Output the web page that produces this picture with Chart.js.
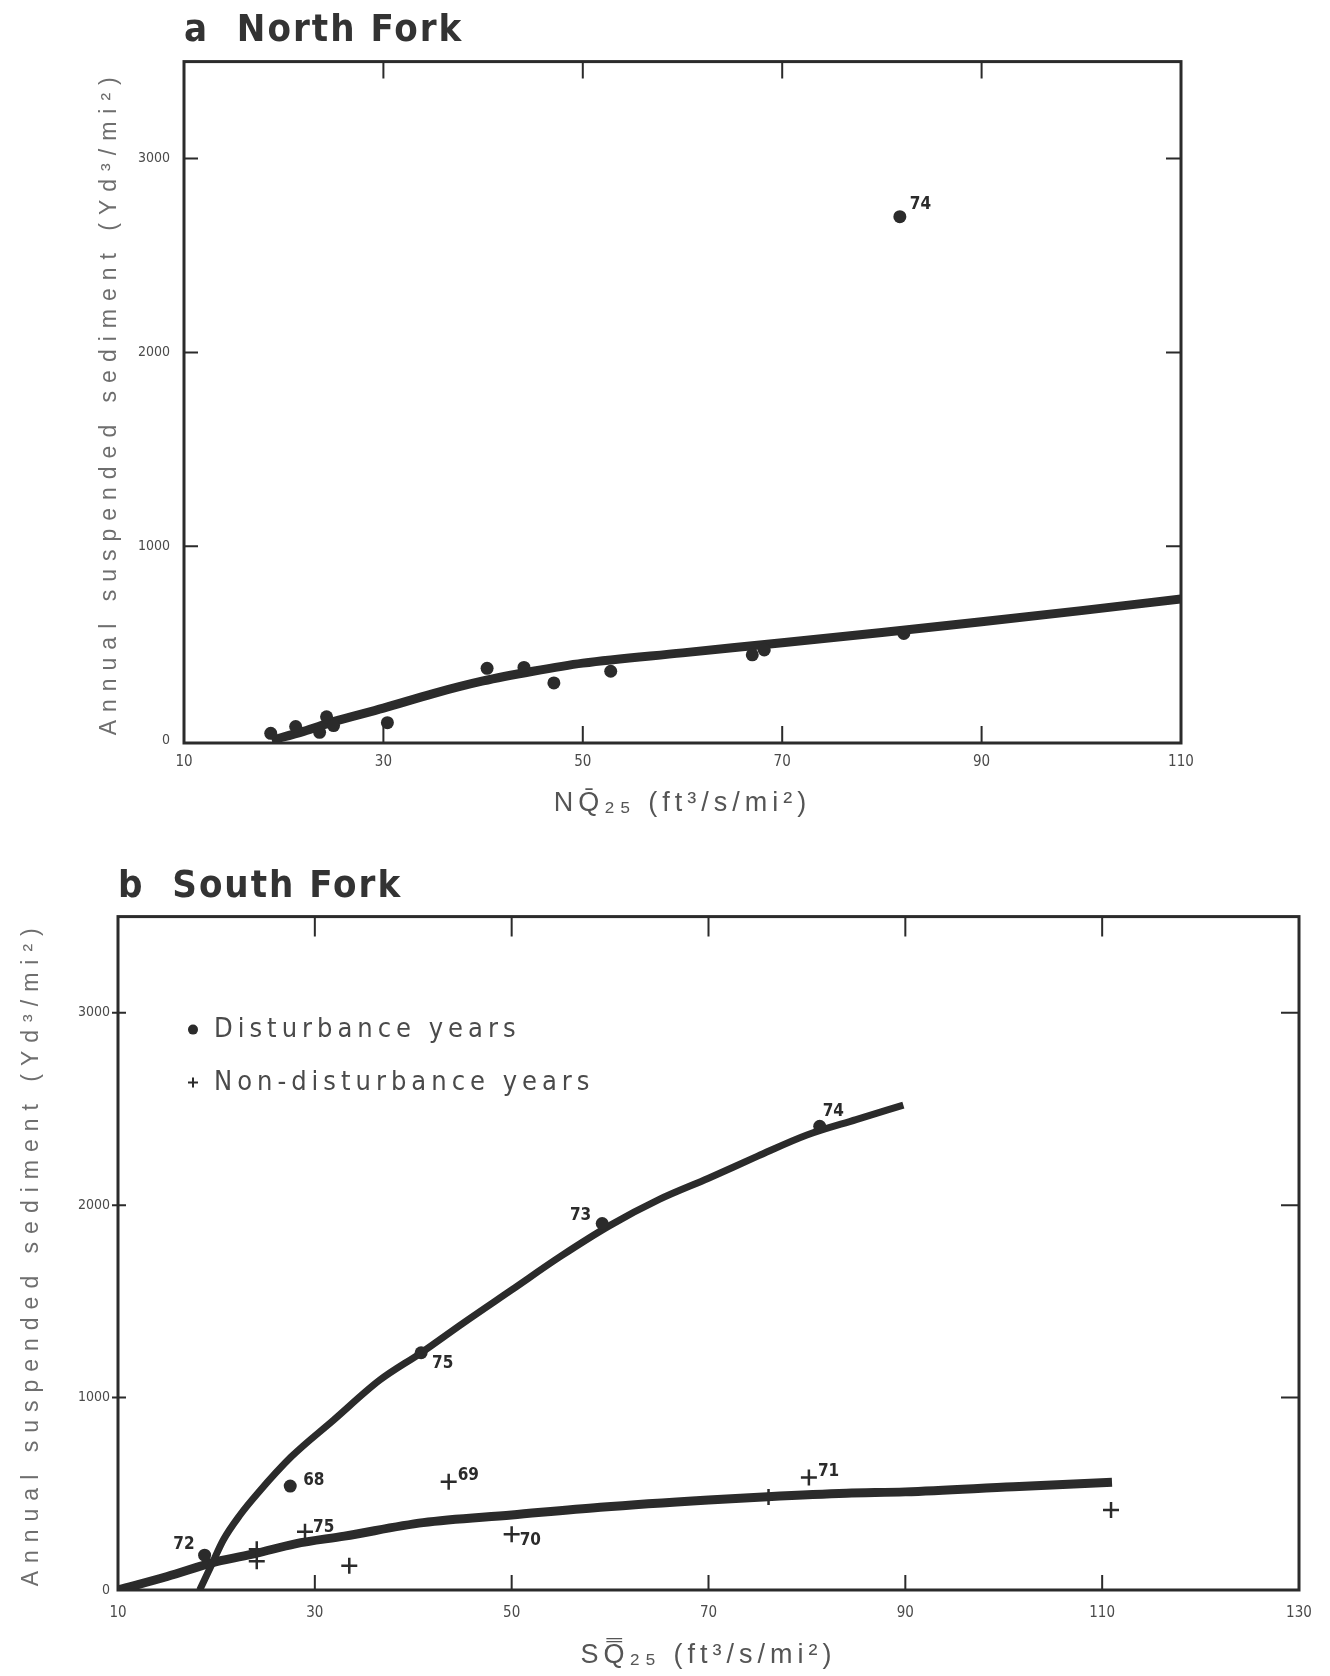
<!DOCTYPE html>
<html>
<head>
<meta charset="utf-8">
<script src="https://cdn.jsdelivr.net/npm/chart.js@4.4.1/dist/chart.umd.min.js"></script>
<style>
    body { margin: 0; background: #ffffff; }
    .painel { position: absolute; left: 0; width: 1330px; }
    #painel_norte { top: 0; height: 840px; }
    #painel_sul { top: 840px; height: 836px; }
</style>
</head>
<body>
<div class="painel" id="painel_norte"><canvas id="chart_norte"></canvas></div>
<div class="painel" id="painel_sul"><canvas id="chart_sul"></canvas></div>
<script>
// a - North Fork: pontos (Q25, sedimento)
var norte_q   = [18.7, 21.2, 23.6, 24.3, 25.0, 30.4, 40.4, 44.1, 47.1, 52.8, 67.0, 68.2, 82.2, 81.8];
var norte_sed = [35, 70, 40, 120, 75, 90, 370, 375, 295, 355, 440, 465, 550, 2700];
var norte_anos = ['', '', '', '', '', '', '', '', '', '', '', '', '', '74'];

var norte_curva_q   = [18.8, 22, 25, 30, 35, 40, 45, 50, 60, 70, 80, 90, 100, 110];
var norte_curva_sed = [0, 45, 95, 165, 240, 305, 355, 397, 450, 502, 555, 610, 668, 728];

// b - South Fork
var sul_dist_q    = [81.3, 59.2, 40.8, 27.5, 18.8];
var sul_dist_sed  = [2410, 1905, 1233, 540, 181];
var sul_dist_anos = ['74', '73', '75', '68', '72'];

var sul_nao_q    = [43.6, 80.2, 29.0, 50.0, 33.5, 24.1, 24.1, 76.1, 110.9];
var sul_nao_sed  = [562, 585, 303, 290, 126, 212, 150, 483, 416];
var sul_nao_anos = ['69', '71', '75', '70', '', '', '', '', ''];

var sul_curva_dist_q   = [18.3, 19.5, 20.7, 22.4, 24.2, 27.6, 31.9, 36.6, 40.8, 45, 50, 55, 60, 65, 70, 75, 80, 85, 89.8];
var sul_curva_dist_sed = [0, 130, 260, 390, 503, 692, 883, 1091, 1233, 1385, 1560, 1735, 1895, 2030, 2140, 2255, 2365, 2445, 2520];

var sul_curva_nao_q   = [10, 15, 20, 24, 28, 33, 41, 50, 59, 70, 76, 84, 90, 101, 111];
var sul_curva_nao_sed = [0, 70, 147, 190, 240, 280, 350, 390, 430, 468, 485, 503, 510, 537, 560];

// marcas dos eixos
var ticks_x_norte = [10, 30, 50, 70, 90, 110];
var ticks_x_sul   = [10, 30, 50, 70, 90, 110, 130];
var ticks_y       = [0, 1000, 2000, 3000];

var FONTE_ESTREITA = "'Liberation Sans Narrow', 'DejaVu Sans Condensed', 'Liberation Sans', sans-serif";
var FONTE = "'Liberation Sans', 'DejaVu Sans', sans-serif";
var TINTA = '#2b2b2b';

function pares(xs, ys) {
    return xs.map(function (v, i) { return { x: v, y: ys[i] }; });
}

function ticksFixos(lista) {
    return function (scale) {
        scale.ticks = lista.map(function (v) { return { value: v }; });
    };
}

function larguraFixa(valor) {
    return function (scale) { scale.width = valor; };
}

function alturaFixa(valor) {
    return function (scale) { scale.height = valor; };
}

function semSeparador(valor) {
    return String(valor);
}

// espacamento entre letras nos titulos (o Chart.js nao tem essa opcao)
var pluginEspacamento = {
    id: 'espacamento',
    afterLayout: function (chart, args, opts) {
        var ctx = chart.ctx;
        function embrulhar(obj, nomeMetodo, px) {
            if (!obj || obj['_esp_' + nomeMetodo]) return;
            var original = obj[nomeMetodo];
            obj[nomeMetodo] = function () {
                ctx.save();
                ctx.letterSpacing = px + 'px';
                original.apply(obj, arguments);
                ctx.restore();
            };
            obj['_esp_' + nomeMetodo] = true;
        }
        embrulhar(chart.scales.x, 'drawTitle', opts.eixoX);
        embrulhar(chart.scales.y, 'drawTitle', opts.eixoY);
        embrulhar(chart.titleBlock, 'draw', opts.titulo);
    }
};

// moldura com tracinhos para dentro nos quatro lados
var pluginMoldura = {
    id: 'moldura',
    afterDatasetsDraw: function (chart, args, opts) {
        var ctx = chart.ctx;
        var a = chart.chartArea;
        var sx = chart.scales.x;
        var sy = chart.scales.y;
        ctx.save();
        ctx.strokeStyle = TINTA;
        ctx.lineWidth = opts.borda;
        ctx.strokeRect(a.left, a.top, a.right - a.left, a.bottom - a.top);
        ctx.lineWidth = 2;
        ctx.beginPath();
        sx.ticks.forEach(function (t) {
            var px = sx.getPixelForValue(t.value);
            if (px - a.left < 5 || a.right - px < 5) return;
            ctx.moveTo(px, a.top);
            ctx.lineTo(px, a.top + opts.cima);
            ctx.moveTo(px, a.bottom);
            ctx.lineTo(px, a.bottom - opts.baixo);
        });
        sy.ticks.forEach(function (t) {
            var py = sy.getPixelForValue(t.value);
            if (a.bottom - py < 5 || py - a.top < 5) return;
            ctx.moveTo(a.left - opts.fora, py);
            ctx.lineTo(a.left + opts.esq, py);
            ctx.moveTo(a.right, py);
            ctx.lineTo(a.right - opts.dir, py);
        });
        ctx.stroke();
        ctx.restore();
    }
};

// numeros dos anos ao lado dos pontos
var pluginAnos = {
    id: 'anos',
    afterDatasetsDraw: function (chart, args, opts) {
        var ctx = chart.ctx;
        ctx.save();
        ctx.font = opts.fonte;
        ctx.fillStyle = TINTA;
        ctx.textBaseline = 'middle';
        chart.data.datasets.forEach(function (ds, i) {
            if (!ds.anos) return;
            var meta = chart.getDatasetMeta(i);
            ds.anos.forEach(function (ano, j) {
                if (!ano) return;
                var d = ds.deslocAnos[ano] || [8, -8];
                var ponto = meta.data[j];
                ctx.textAlign = d[0] < 0 ? 'right' : 'left';
                ctx.fillText(ano, ponto.x + d[0], ponto.y + d[1]);
            });
        });
        ctx.restore();
    }
};

// legenda dentro da area do grafico
var pluginLegenda = {
    id: 'legendaInterna',
    afterDatasetsDraw: function (chart, args, opts) {
        if (!opts.mostrar) return;
        var ctx = chart.ctx;
        var a = chart.chartArea;
        var linha = 0;
        ctx.save();
        ctx.font = opts.fonte;
        ctx.textBaseline = 'middle';
        ctx.textAlign = 'left';
        chart.data.datasets.forEach(function (ds) {
            if (!ds.naLegenda) return;
            var cx = a.left + opts.x;
            var cy = a.top + opts.y + linha * opts.passo;
            ctx.fillStyle = TINTA;
            ctx.strokeStyle = TINTA;
            if (ds.pointStyle === 'cross') {
                ctx.lineWidth = 2;
                ctx.beginPath();
                ctx.moveTo(cx - 5, cy); ctx.lineTo(cx + 5, cy);
                ctx.moveTo(cx, cy - 5); ctx.lineTo(cx, cy + 5);
                ctx.stroke();
            } else {
                ctx.beginPath();
                ctx.arc(cx, cy, 5, 0, Math.PI * 2);
                ctx.fill();
            }
            ctx.letterSpacing = opts.espaco + 'px';
            ctx.fillStyle = opts.cor;
            ctx.fillText(ds.label, a.left + opts.textoX, cy);
            ctx.letterSpacing = '0px';
            linha++;
        });
        ctx.restore();
    }
};

function opcoesGrafico(cfg) {
    return {
        responsive: true,
        maintainAspectRatio: false,
        animation: false,
        layout: { padding: cfg.padding },
        scales: {
            x: {
                type: 'linear',
                min: cfg.xMin,
                max: cfg.xMax,
                afterBuildTicks: ticksFixos(cfg.ticksX),
                afterFit: alturaFixa(cfg.alturaX),
                grid: { display: false, drawTicks: false },
                border: { display: false },
                ticks: {
                    z: 1,
                    padding: cfg.padTickX,
                    color: '#4a4a4a',
                    font: { family: FONTE_ESTREITA, size: 15 },
                    maxRotation: 0,
                    callback: semSeparador
                },
                title: {
                    display: true,
                    text: cfg.tituloX,
                    color: '#555555',
                    padding: { top: 0, bottom: cfg.padTituloX },
                    font: { family: FONTE, size: 27 }
                }
            },
            y: {
                type: 'linear',
                min: cfg.yMin,
                max: 3500,
                afterBuildTicks: ticksFixos(ticks_y),
                afterFit: larguraFixa(cfg.larguraY),
                grid: { display: false, drawTicks: false },
                border: { display: false },
                ticks: {
                    z: 1,
                    padding: cfg.padTickY,
                    color: '#4a4a4a',
                    font: { family: FONTE_ESTREITA, size: cfg.fonteTickY },
                    callback: semSeparador
                },
                title: {
                    display: true,
                    text: 'Annual suspended sediment (Yd³/mi²)',
                    color: '#6e6e6e',
                    padding: { top: cfg.padTituloY, bottom: 0 },
                    font: { family: FONTE, size: 23 }
                }
            }
        },
        plugins: {
            legend: { display: false },
            tooltip: { enabled: false },
            title: {
                display: true,
                text: cfg.titulo,
                align: 'start',
                fullSize: false,
                color: '#333333',
                padding: cfg.padTitulo,
                font: { family: FONTE_ESTREITA, size: 38, weight: 'bold' }
            },
            espacamento: { eixoX: 5, eixoY: 8, titulo: 2 },
            moldura: cfg.moldura,
            anos: { fonte: 'bold 17px ' + FONTE_ESTREITA },
            legendaInterna: cfg.legenda
        }
    };
}

var plugins = [pluginEspacamento, pluginMoldura, pluginAnos, pluginLegenda];

new Chart(document.getElementById('chart_norte'), {
    type: 'scatter',
    data: {
        datasets: [{
            label: 'North Fork',
            data: pares(norte_q, norte_sed),
            anos: norte_anos,
            deslocAnos: { '74': [10, -12] },
            pointRadius: 6.5,
            pointBackgroundColor: TINTA,
            pointBorderWidth: 0
        }, {
            label: 'Curva North Fork',
            data: pares(norte_curva_q, norte_curva_sed),
            showLine: true,
            cubicInterpolationMode: 'monotone',
            borderColor: TINTA,
            borderWidth: 9,
            pointRadius: 0
        }]
    },
    options: opcoesGrafico({
        titulo: 'a  North Fork',
        padTitulo: { top: 8, bottom: 8 },
        padding: { top: 0, left: 90, right: 149, bottom: 17 },
        xMin: 10, xMax: 110, yMin: -15,
        ticksX: ticks_x_norte,
        alturaX: 80, padTickX: 10, padTituloX: 3,
        tituloX: 'NQ̄₂₅ (ft³/s/mi²)',
        larguraY: 94, padTickY: 14, padTituloY: 6, fonteTickY: 14,
        moldura: { borda: 3, cima: 17, baixo: 17, esq: 14, dir: 15, fora: 0 },
        legenda: { mostrar: false }
    }),
    plugins: plugins
});

new Chart(document.getElementById('chart_sul'), {
    type: 'scatter',
    data: {
        datasets: [{
            label: 'Disturbance years',
            data: pares(sul_dist_q, sul_dist_sed),
            anos: sul_dist_anos,
            deslocAnos: { '74': [3, -15], '73': [-11, -8], '75': [11, 11], '68': [13, -6], '72': [-10, -11] },
            naLegenda: true,
            pointStyle: 'circle',
            pointRadius: 6.5,
            pointBackgroundColor: TINTA,
            pointBorderWidth: 0
        }, {
            label: 'Non-disturbance years',
            data: pares(sul_nao_q, sul_nao_sed),
            anos: sul_nao_anos,
            deslocAnos: { '69': [9, -6], '71': [9, -6], '75': [8, -4], '70': [8, 6] },
            naLegenda: true,
            pointStyle: 'cross',
            pointRadius: 8,
            pointBorderColor: TINTA,
            pointBorderWidth: 2.5
        }, {
            label: 'Curva disturbance',
            data: pares(sul_curva_dist_q, sul_curva_dist_sed),
            showLine: true,
            cubicInterpolationMode: 'monotone',
            borderColor: TINTA,
            borderWidth: 7,
            pointRadius: 0
        }, {
            label: 'Curva non-disturbance',
            data: pares(sul_curva_nao_q, sul_curva_nao_sed),
            showLine: true,
            cubicInterpolationMode: 'monotone',
            borderColor: TINTA,
            borderWidth: 9,
            pointRadius: 0
        }]
    },
    options: opcoesGrafico({
        titulo: 'b  South Fork',
        padTitulo: { top: 24, bottom: 7 },
        padding: { top: 0, left: 10, right: 31, bottom: 4 },
        xMin: 10, xMax: 130, yMin: 0,
        ticksX: ticks_x_sul,
        alturaX: 82, padTickX: 14, padTituloX: 0,
        tituloX: 'SQ̿₂₅ (ft³/s/mi²)',
        larguraY: 108, padTickY: 8, padTituloY: 8, fonteTickY: 14,
        moldura: { borda: 3, cima: 20, baixo: 15, esq: 8, dir: 18, fora: 6 },
        legenda: { mostrar: true, x: 75, y: 113, passo: 53, textoX: 96, espaco: 5, cor: '#4a4a4a', fonte: '27px ' + FONTE_ESTREITA }
    }),
    plugins: plugins
});
</script>
</body>
</html>
